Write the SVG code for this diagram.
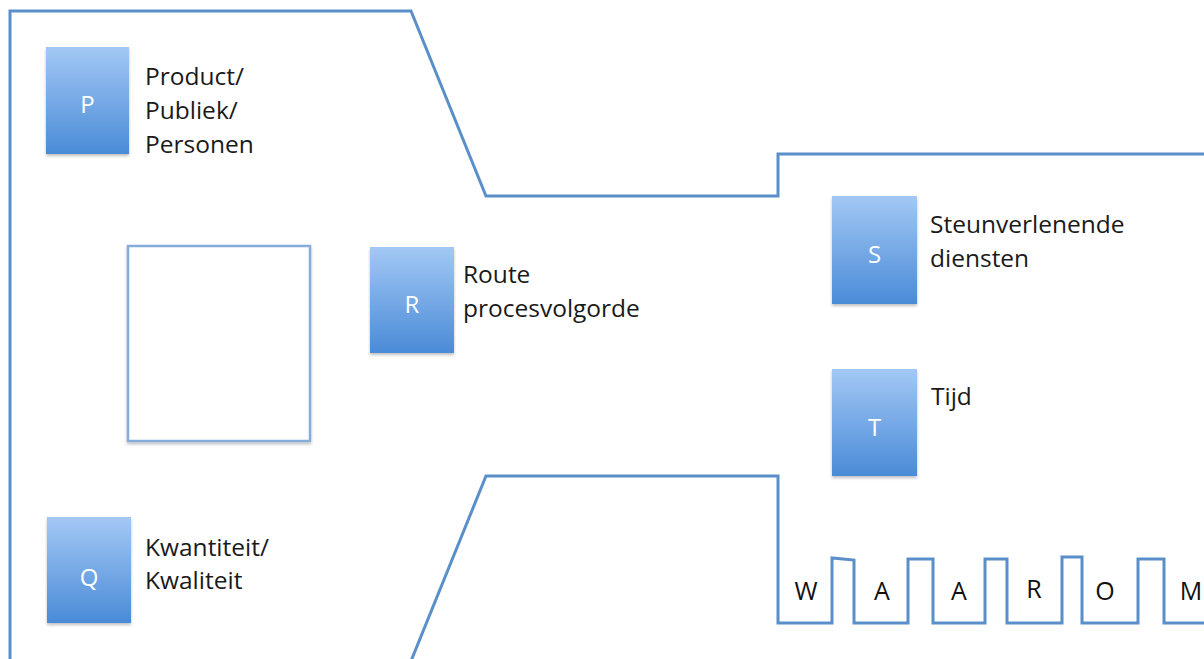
<svg xmlns="http://www.w3.org/2000/svg" width="1204" height="659" viewBox="0 0 1204 659">
<style>
.outline{fill:none;stroke:#5b8fca;stroke-width:3;stroke-linejoin:miter}
.box{fill:url(#g);filter:url(#sh)}
.letter{font-family:"Open Sans","Liberation Sans",sans-serif;font-size:24px;fill:#ffffff;text-anchor:middle}
.lbl{font-family:"Open Sans","Liberation Sans",sans-serif;font-size:24.5px;fill:#1a1a1a}
.key{font-family:"Open Sans","Liberation Sans",sans-serif;font-size:25px;fill:#111111;text-anchor:middle}
.empty{fill:#ffffff;stroke:#86acd9;stroke-width:2.5;filter:url(#sh)}
</style>
<defs>
<linearGradient id="g" x1="0" y1="0" x2="0" y2="1">
<stop offset="0" stop-color="#a3c8f5"/>
<stop offset="1" stop-color="#4a8bd7"/>
</linearGradient>
<filter id="sh" x="-10%" y="-10%" width="130%" height="130%">
<feDropShadow dx="0" dy="2" stdDeviation="1.5" flood-color="#000" flood-opacity="0.25"/>
</filter>
</defs>
<rect width="1204" height="659" fill="#ffffff"/>
<g id="connectors">
<path class="outline" d="M1206 154 L778 154 L778 196 L486 196 L411 11 L10 11 L10 661"/>
<path class="outline" d="M411 661 L486 476 L778 476 L778 623 L832 623 L832 558 L854 560 L854 623 L908 623 L908 559 L933 559 L933 623 L985 623 L985 559 L1007 559 L1007 623 L1062 623 L1062 557 L1082 557 L1082 623 L1138 623 L1138 559 L1164 559 L1164 623 L1206 623"/>
</g>
<g id="node-P">
<rect class="box" x="46" y="47" width="83" height="107"/>
<text class="letter" x="87.5" y="113">P</text>
<text class="lbl" x="145" y="85">Product/</text>
<text class="lbl" x="145" y="119">Publiek/</text>
<text class="lbl" x="145" y="153">Personen</text>
</g>
<g id="node-empty">
<rect class="empty" x="128" y="246" width="182" height="195"/>
</g>
<g id="node-R">
<rect class="box" x="370" y="247" width="84" height="106"/>
<text class="letter" x="412" y="313">R</text>
<text class="lbl" x="463" y="283">Route</text>
<text class="lbl" x="463" y="317">procesvolgorde</text>
</g>
<g id="node-S">
<rect class="box" x="832" y="196" width="85" height="108"/>
<text class="letter" x="874.5" y="263">S</text>
<text class="lbl" x="930" y="233">Steunverlenende</text>
<text class="lbl" x="930" y="267">diensten</text>
</g>
<g id="node-T">
<rect class="box" x="832" y="369" width="85" height="107"/>
<text class="letter" x="874.5" y="436">T</text>
<text class="lbl" x="931" y="405">Tijd</text>
</g>
<g id="node-Q">
<rect class="box" x="47" y="517" width="84" height="106"/>
<text class="letter" x="89" y="586">Q</text>
<text class="lbl" x="145" y="556">Kwantiteit/</text>
<text class="lbl" x="145" y="589">Kwaliteit</text>
</g>
<g id="key-letters">
<text class="key" x="806" y="600">W</text>
<text class="key" x="882" y="600">A</text>
<text class="key" x="959" y="600">A</text>
<text class="key" x="1034" y="598">R</text>
<text class="key" x="1105" y="600">O</text>
<text class="key" x="1191" y="600">M</text>
</g>
</svg>
